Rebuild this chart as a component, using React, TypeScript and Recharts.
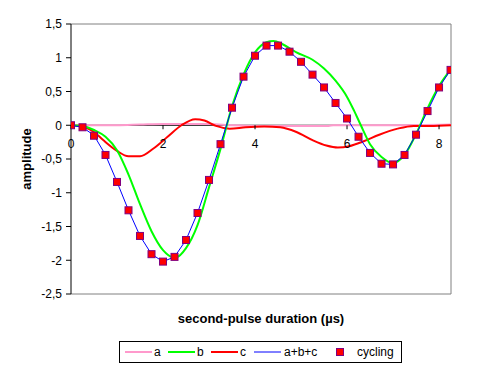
import React from 'react';
import { ComposedChart, Line, XAxis, YAxis, ReferenceLine, ReferenceDot } from 'recharts';

const FONT = '"Liberation Sans", Arial, sans-serif';

const xTicks = [0, 2, 4, 6, 8];
const yTicks = [-2.5, -2, -1.5, -1, -0.5, 0, 0.5, 1, 1.5];

const seriesA = [
  { x: 0, y: 0 }, { x: 1, y: 0 }, { x: 1.5, y: 0.01 }, { x: 2, y: 0.02 }, { x: 3, y: 0.02 },
  { x: 3.5, y: 0.0 }, { x: 4, y: -0.01 }, { x: 5, y: -0.01 }, { x: 5.6, y: -0.01 }, { x: 5.7, y: 0 },
  { x: 6.5, y: 0 }, { x: 7, y: 0 }, { x: 8.26, y: 0.01 },
];

const seriesB = [
  { x: 0, y: 0 }, { x: 0.25, y: -0.01 }, { x: 0.5, y: -0.07 }, { x: 0.75, y: -0.17 },
  { x: 1.0, y: -0.37 }, { x: 1.25, y: -0.73 }, { x: 1.5, y: -1.17 }, { x: 1.75, y: -1.57 },
  { x: 2.0, y: -1.85 }, { x: 2.2, y: -1.95 }, { x: 2.3, y: -1.95 }, { x: 2.5, y: -1.82 },
  { x: 2.75, y: -1.48 }, { x: 3.0, y: -0.92 }, { x: 3.25, y: -0.35 }, { x: 3.5, y: 0.28 },
  { x: 3.75, y: 0.75 }, { x: 4.0, y: 1.08 }, { x: 4.25, y: 1.23 }, { x: 4.4, y: 1.25 },
  { x: 4.6, y: 1.2 }, { x: 4.9, y: 1.08 }, { x: 5.25, y: 0.97 }, { x: 5.5, y: 0.84 },
  { x: 5.75, y: 0.66 }, { x: 6.0, y: 0.42 }, { x: 6.15, y: 0.22 }, { x: 6.3, y: 0.0 },
  { x: 6.5, y: -0.28 }, { x: 6.75, y: -0.47 }, { x: 7.0, y: -0.56 }, { x: 7.25, y: -0.44 },
  { x: 7.5, y: -0.13 }, { x: 7.75, y: 0.25 }, { x: 8.0, y: 0.58 }, { x: 8.26, y: 0.83 },
];

const seriesC = [
  { x: 0, y: 0 }, { x: 0.3, y: -0.03 }, { x: 0.5, y: -0.1 }, { x: 0.7, y: -0.22 },
  { x: 1.0, y: -0.38 }, { x: 1.25, y: -0.46 }, { x: 1.5, y: -0.46 }, { x: 1.8, y: -0.34 },
  { x: 2.1, y: -0.17 }, { x: 2.4, y: 0.0 }, { x: 2.7, y: 0.09 }, { x: 2.9, y: 0.07 },
  { x: 3.15, y: -0.01 }, { x: 3.45, y: -0.05 }, { x: 3.8, y: -0.03 }, { x: 4.2, y: -0.02 },
  { x: 4.55, y: -0.03 }, { x: 4.9, y: -0.1 }, { x: 5.25, y: -0.22 }, { x: 5.55, y: -0.3 },
  { x: 5.8, y: -0.33 }, { x: 6.05, y: -0.31 }, { x: 6.35, y: -0.24 }, { x: 6.7, y: -0.14 },
  { x: 7.1, y: -0.05 }, { x: 7.45, y: -0.01 }, { x: 7.8, y: -0.01 }, { x: 8.26, y: 0.0 },
];

const cyclingX = [
  0, 0.25, 0.5, 0.75, 1.0, 1.25, 1.5, 1.75, 2.0, 2.25, 2.5, 2.75, 3.0, 3.25, 3.5, 3.75, 4.0,
  4.25, 4.5, 4.75, 5.0, 5.25, 5.5, 5.75, 6.0, 6.25, 6.5, 6.75, 7.0, 7.25, 7.5, 7.75, 8.0, 8.25,
];
const sumValues = [
  0, -0.03, -0.15, -0.44, -0.84, -1.26, -1.64, -1.91, -2.02, -1.95, -1.7, -1.3, -0.81, -0.28, 0.26,
  0.72, 1.03, 1.18, 1.18, 1.09, 0.94, 0.75, 0.56, 0.33, 0.1, -0.17, -0.41, -0.57, -0.58, -0.44,
  -0.14, 0.21, 0.56, 0.82,
];
const cyclingValues = [
  0, -0.03, -0.155, -0.44, -0.84, -1.26, -1.64, -1.91, -2.02, -1.95, -1.7, -1.3, -0.81, -0.28, 0.26,
  0.72, 1.03, 1.18, 1.18, 1.09, 0.94, 0.75, 0.56, 0.33, 0.1, -0.17, -0.41, -0.57, -0.58, -0.44,
  -0.14, 0.21, 0.56, 0.82,
];

const sumData = cyclingX.map((x, i) => ({ x, y: sumValues[i] }));
const cyclingData = cyclingX.map((x, i) => ({ x, y: cyclingValues[i] }));

const legendItems = [
  { name: 'a', color: '#FF99CC', width: 2, kind: 'line', lx: 5, tx: 35 },
  { name: 'b', color: '#00FF00', width: 2, kind: 'line', lx: 48, tx: 78 },
  { name: 'c', color: '#FF0000', width: 2, kind: 'line', lx: 91, tx: 121 },
  { name: 'a+b+c', color: '#0000FF', width: 1, kind: 'line', lx: 134, tx: 165 },
  { name: 'cycling', color: '#FF0000', width: 1, kind: 'square', lx: 217, tx: 238 },
];

const Square = (props: any) => {
  const { cx, cy, index } = props;
  if (cx == null || cy == null) return null;
  return (
    <rect key={`sq-${index}`} x={cx - 3.5} y={cy - 3.5} width={7} height={7} fill="#FF0000" stroke="#800080" strokeWidth={1} />
  );
};

const XTickMark = (label: number) => (props: any) => {
  const { cx, cy } = props;
  return (
    <g>
      <line x1={cx} y1={cy} x2={cx} y2={cy + 4} stroke="#000" strokeWidth={1} />
      <text x={cx} y={cy + 19} textAnchor="middle" dominantBaseline="central" fontSize={12} fontFamily={FONT} fill="#000">
        {label}
      </text>
    </g>
  );
};

export default function App() {
  return (
    <div style={{ position: 'relative', width: 470, height: 363 }}>
      <ComposedChart width={470} height={363} margin={{ top: 16, right: 27, bottom: 0, left: 10 }}>
        <XAxis
          type="number"
          dataKey="x"
          domain={[0, 8.26]}
          allowDataOverflow
          axisLine={false}
          tickLine={false}
          tick={false}
          height={77}
          label={{
            content: (p: any) => {
              const vb = p.viewBox || {};
              return (
                <text x={vb.x + vb.width / 2} y={vb.y + 24} textAnchor="middle" dominantBaseline="central" fontSize={13} fontWeight="bold" fontFamily={FONT} fill="#000">
                  second-pulse duration (µs)
                </text>
              );
            },
          }}
        />
        <YAxis
          type="number"
          dataKey="y"
          domain={[-2.5, 1.5]}
          ticks={yTicks}
          interval={0}
          width={53}
          tickFormatter={(v: number) => String(v).replace('.', ',')}
          axisLine={{ stroke: '#000' }}
          tickLine={{ stroke: '#000' }}
          tickSize={5}
          tickMargin={4}
          tick={{ fill: '#000', fontSize: 12, fontFamily: FONT }}
          label={{
            content: (p: any) => {
              const vb = p.viewBox || {};
              const cx = vb.x + 8;
              const cy = vb.y + vb.height / 2;
              return (
                <text x={cx} y={cy} transform={`rotate(-90, ${cx}, ${cy})`} textAnchor="middle" dominantBaseline="central" fontSize={13} fontWeight="bold" fontFamily={FONT} fill="#000">
                  amplitude
                </text>
              );
            },
          }}
        />
        <ReferenceLine y={1.5} stroke="#808080" strokeWidth={1} />
        <ReferenceLine y={-2.5} stroke="#808080" strokeWidth={1} />
        <ReferenceLine x={8.26} stroke="#808080" strokeWidth={1} />
        <ReferenceLine y={0} stroke="#000" strokeWidth={1} />
        {xTicks.map((t) => (
          <ReferenceDot key={`xt-${t}`} x={t} y={0} r={0} shape={XTickMark(t)} />
        ))}
        <Line data={seriesA} dataKey="y" type="monotone" stroke="#FF99CC" strokeWidth={2} dot={false} isAnimationActive={false} />
        <Line data={seriesC} dataKey="y" type="monotone" stroke="#FF0000" strokeWidth={2} dot={false} isAnimationActive={false} />
        <Line data={seriesB} dataKey="y" type="monotone" stroke="#00FF00" strokeWidth={2} dot={false} isAnimationActive={false} />
        <Line data={sumData} dataKey="y" type="linear" stroke="#0000FF" strokeWidth={1} dot={false} isAnimationActive={false} />
        <Line data={cyclingData} dataKey="y" type="linear" stroke="none" dot={<Square />} activeDot={false} isAnimationActive={false} />
      </ComposedChart>
      <div
        style={{
          position: 'absolute',
          left: 111,
          top: 333,
          width: 281,
          height: 20,
          border: '1px solid #000',
          background: '#fff',
        }}
      >
        <svg width={281} height={20} style={{ display: 'block' }}>
          {legendItems.map((it) => (
            <g key={it.name}>
              {it.kind === 'line' ? (
                <line x1={it.lx} y1={10} x2={it.lx + 27} y2={10} stroke={it.color} strokeWidth={it.width} />
              ) : (
                <rect x={it.lx - 0.5} y={6.5} width={7} height={7} fill={it.color} stroke="#800080" strokeWidth={1} />
              )}
              <text x={it.tx - 1} y={10} dominantBaseline="central" fontSize={12} fontFamily={FONT} fill="#000">
                {it.name}
              </text>
            </g>
          ))}
        </svg>
      </div>
    </div>
  );
}
